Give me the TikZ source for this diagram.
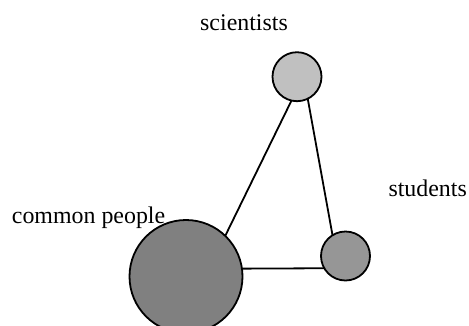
\documentclass[tikz,border=0pt]{standalone}
\usepackage{fontspec}
\setmainfont{Liberation Serif}
\begin{document}
\begin{tikzpicture}[x=1pt,y=-1pt,
  lbl/.style={anchor=base west,inner sep=0pt,font=\fontsize{23.9}{28}\selectfont},
  ball/.style={circle,draw=black,line width=1.8pt,inner sep=0pt,outer sep=0pt},
  link/.style={line width=1.8pt}]
\clip (0,0) rectangle (469,325);
\useasboundingbox (0,0) rectangle (469,325);
\node[ball,fill={rgb,255:red,192;green,192;blue,192},minimum size=49pt] (sci) at (297,76.7) {};
\node[ball,fill={rgb,255:red,150;green,150;blue,150},minimum size=49pt] (stu) at (345.5,256) {};
\node[ball,fill={rgb,255:red,128;green,128;blue,128},minimum size=113pt] (big) at (186,276.5) {};
\draw[link] (big.46) -- (sci.257);
\draw[link] (sci.296) -- (stu.122);
\draw[link] (big.8) -- (stu.210);
\node[lbl] (tsci) at (200,30) {scientists};
\node[lbl] (tcom) at (11.7,223.3) {common people};
\node[lbl] (tstu) at (388.3,196) {students};
\end{tikzpicture}
\end{document}
